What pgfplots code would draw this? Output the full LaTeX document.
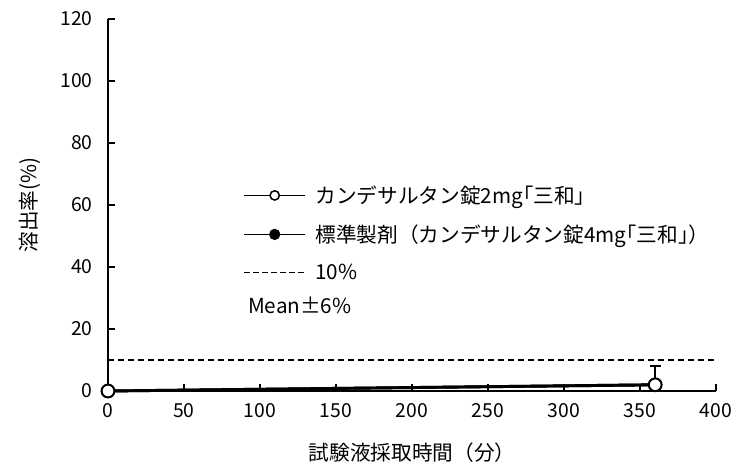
\documentclass[border=0pt]{standalone}
\usepackage{fontspec}
\setmainfont{Noto Sans CJK JP}
\usepackage{pgfplots}
\pgfplotsset{compat=1.18}
\begin{document}
\begin{tikzpicture}
\begin{axis}[
  scale only axis,
  width=456pt, height=279pt,
  xmin=0, xmax=400, ymin=0, ymax=120,
  xtick={0,50,...,400}, ytick={0,20,...,120},
  axis x line*=bottom, axis y line*=left,
  axis line style={line width=0.8pt, -},
  tick style={line width=0.8pt, black},
  tick align=inside, major tick length=5pt,
  /pgf/number format/assume math mode=true,
  ticklabel style={font=\fontsize{14.5}{16}\selectfont},
  xticklabel style={yshift=-6pt},
  yticklabel style={xshift=-8pt},
  xlabel={試験液採取時間（分）},
  ylabel={溶出率(\%)},
  label style={font=\fontsize{15.5}{18}\selectfont},
  xlabel style={yshift=-12pt},
  ylabel style={yshift=8pt},
  clip=false,
  legend style={draw=none, fill=none, at={(0.222,0.56)}, anchor=north west,
    font=\fontsize{15.5}{17}\selectfont, row sep=10.5pt, inner sep=0pt,
    /tikz/every odd column/.append style={column sep=5pt}},
  legend cell align=left,
]
\addplot[black, line width=2.2pt, mark=*, mark size=4.8pt, mark options={line width=1pt, fill=black}, forget plot]
  coordinates {(0,0) (360,2)};
\addplot[black, line width=2.2pt, mark=*, mark size=4.8pt, mark options={line width=1.5pt, fill=white}, forget plot,
  error bars/.cd, y dir=plus, y explicit, error bar style={line width=1.2pt, black}, error mark options={rotate=90, mark size=4pt, line width=1.2pt}]
  coordinates {(0,0) +- (0,0) (360,2) +- (0,6)};
\addplot[black, line width=1pt, dash pattern=on 4.5pt off 3pt, forget plot] coordinates {(0,10) (400,10)};
\addlegendimage{black, legend image code/.code={\draw[black, line width=1.2pt] (0pt,0pt) -- (46pt,0pt); \draw[black, line width=1.1pt, fill=white] (23pt,0pt) circle (3.5pt);}}
\addlegendimage{black, legend image code/.code={\draw[black, line width=1.2pt] (0pt,0pt) -- (46pt,0pt); \fill[black] (23pt,0pt) circle (4pt);}}
\addlegendimage{black, legend image code/.code={\draw[black, line width=1pt, dash pattern=on 4.5pt off 2.2pt] (0pt,0pt) -- (46pt,0pt);}}
\legend{カンデサルタン錠2mg｢三和｣, 標準製剤（カンデサルタン錠4mg｢三和｣）, 10\%}
\node[anchor=west, inner sep=0pt, font=\fontsize{15.5}{17}\selectfont] at (axis cs:92,27.5) {Mean±6\%};
\end{axis}
\pgfresetboundingbox
\path[use as bounding box] (-81pt,-60.75pt) rectangle (472.5pt,293.25pt);
\end{tikzpicture}
\end{document}
